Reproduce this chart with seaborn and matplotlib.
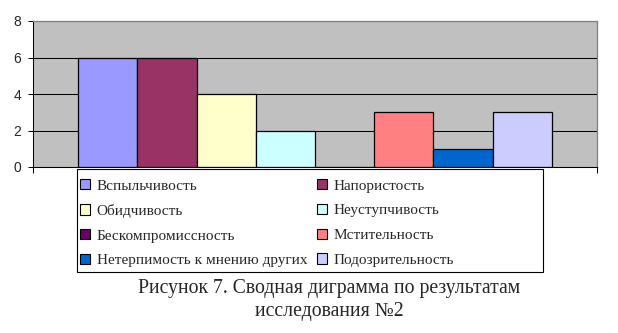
import matplotlib
matplotlib.use("Agg")
import matplotlib.pyplot as plt
import seaborn as sns
import pandas as pd
from matplotlib.patches import Patch, Rectangle

categories = ["Вспыльчивость", "Напористость", "Обидчивость", "Неуступчивость",
              "Бескомпромиссность", "Мстительность", "Нетерпимость к мнению других",
              "Подозрительность"]
values = [6, 6, 4, 2, 0, 3, 1, 3]
colors = ["#9999FF", "#993366", "#FFFFCC", "#CCFFFF", "#660066", "#FF8080", "#0066CC", "#CCCCFF"]
yticks = [0, 2, 4, 6, 8]
caption = "Рисунок 7. Сводная диграмма по результатам\nисследования №2"

sns.set_style("white")
plt.rcParams["font.family"] = ["Liberation Sans", "DejaVu Sans"]

W, H = 618, 333
fig = plt.figure(figsize=(W / 100, H / 100), dpi=100)
ax = fig.add_axes([33 / W, 1 - 167 / H, 564 / W, 146 / H])
ax.set_facecolor("#C0C0C0")

df = pd.DataFrame({"cat": categories, "val": values})
sns.barplot(data=df, x="cat", y="val", hue="cat", palette=dict(zip(categories, colors)),
            order=categories, hue_order=categories, width=1.0, legend=False,
            edgecolor="black", linewidth=0.9, saturation=1, ax=ax)

ax.set_xlim(-1.26, 8.26)
ax.set_ylim(0, 8)
ax.set_yticks(yticks)
ax.set_yticklabels([str(v) for v in yticks], fontsize=10)
ax.set_xticks([-1.26, 8.26])
ax.set_xticklabels(["", ""])
ax.set_xlabel("")
ax.set_ylabel("")
ax.tick_params(axis="y", direction="out", length=3.6, width=0.75, color="black", pad=5, left=True)
ax.tick_params(axis="x", direction="out", length=4.3, width=0.75, color="black", bottom=True)
ax.set_axisbelow(True)
ax.yaxis.grid(True, color="black", linewidth=0.75)
for s in ["left", "bottom"]:
    ax.spines[s].set_color("black")
    ax.spines[s].set_linewidth(0.75)
for s in ["top", "right"]:
    ax.spines[s].set_color("#808080")
    ax.spines[s].set_linewidth(0.9)

handles = [Patch(facecolor=c, edgecolor="black", linewidth=0.8) for c in colors]
serif = ["Liberation Serif", "DejaVu Serif"]
legkw = dict(loc="upper left", frameon=False, borderpad=0, borderaxespad=0,
             handlelength=0.68, handleheight=0.68, handletextpad=0.42, labelspacing=0.73,
             prop={"family": serif, "size": 11})
col1 = [0, 2, 4, 6]
col2 = [1, 3, 5, 7]
fig.legend([handles[i] for i in col1], [categories[i] for i in col1],
           bbox_to_anchor=(80 / W, 1 - 179 / H), **legkw)
fig.legend([handles[i] for i in col2], [categories[i] for i in col2],
           bbox_to_anchor=(317 / W, 1 - 179 / H), **legkw)
fig.add_artist(Rectangle((77 / W, 1 - 272 / H), 466 / W, 103 / H, transform=fig.transFigure,
                         fill=False, edgecolor="black", linewidth=0.8))

fig.text(329 / W, 1 - 300 / H, caption, ha="center", va="center", fontsize=14.2,
         family=serif, linespacing=1.32)

fig.savefig("out.png", dpi=100)
